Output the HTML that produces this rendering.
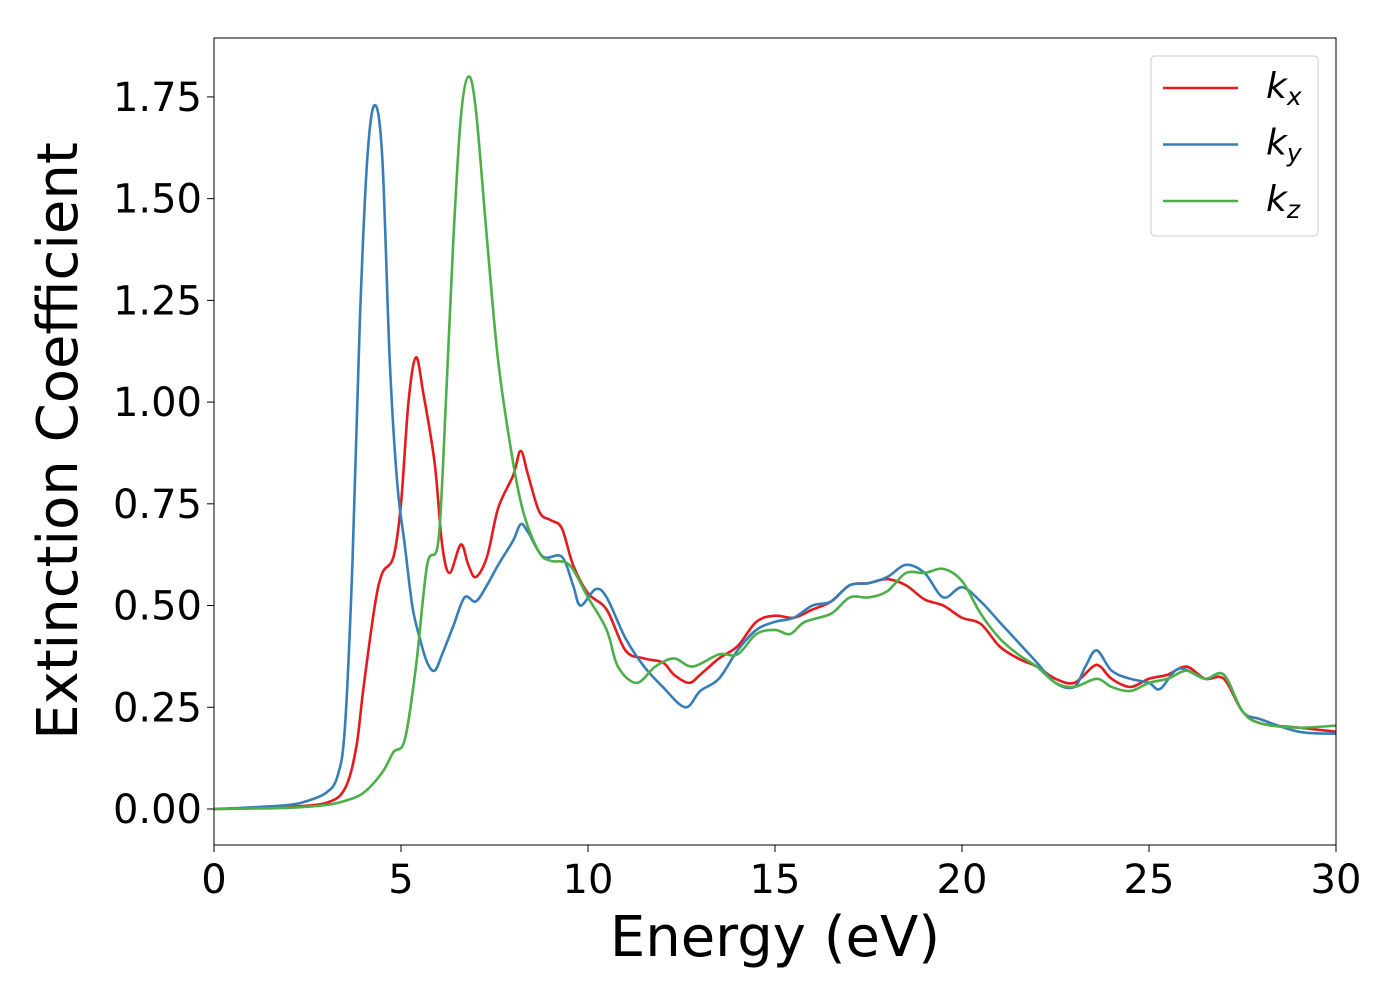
<!DOCTYPE html>
<html><head><meta charset="utf-8"><style>
body{margin:0;background:#fff}
svg text{font-family:"DejaVu Sans","Liberation Sans",sans-serif;fill:#000}
</style></head><body>
<svg width="1400" height="1000" xmlns="http://www.w3.org/2000/svg">
<g id="plot"></g>
</svg>
<script>
const xTicks=[0,5,10,15,20,25,30];
const yTicks=[0,0.25,0.5,0.75,1.0,1.25,1.5,1.75];
const yTickLabels=["0.00","0.25","0.50","0.75","1.00","1.25","1.50","1.75"];
const kxE=[0,1,2,3,3.5,3.8,4.0,4.3,4.5,4.8,5.0,5.2,5.4,5.6,5.9,6.1,6.3,6.6,6.8,7.0,7.3,7.6,8.0,8.2,8.4,8.7,9.0,9.3,9.6,10,10.5,11,11.5,12,12.3,12.7,13,13.5,14,14.5,15,15.5,16,16.5,17,17.5,18,18.5,19,19.5,20,20.5,21,21.5,22,22.5,23,23.5,23.7,24,24.5,25,25.5,26,26.5,27,27.5,28,29,30];
const kxV=[0,0.002,0.005,0.015,0.05,0.15,0.3,0.5,0.58,0.62,0.75,1.0,1.11,1.02,0.85,0.65,0.58,0.65,0.6,0.57,0.62,0.74,0.82,0.88,0.82,0.73,0.71,0.69,0.6,0.53,0.49,0.39,0.37,0.36,0.33,0.31,0.33,0.37,0.4,0.46,0.475,0.47,0.49,0.51,0.55,0.555,0.565,0.55,0.515,0.5,0.47,0.455,0.4,0.37,0.35,0.32,0.31,0.35,0.35,0.32,0.3,0.32,0.33,0.35,0.32,0.32,0.24,0.21,0.2,0.19];
const kyE=[0,1,2,2.5,3,3.3,3.5,3.7,3.9,4.1,4.3,4.5,4.7,4.9,5.1,5.3,5.5,5.7,5.9,6.1,6.4,6.7,7.0,7.3,7.6,8.0,8.2,8.4,8.8,9.3,9.6,9.8,10.2,10.5,11,11.5,12,12.6,13.0,13.5,14,14.5,15,15.5,16,16.5,17,17.5,18,18.5,19,19.5,20,20.5,21,21.5,22,22.5,23,23.3,23.6,24,24.5,25,25.3,25.8,26.5,27,27.5,28,29,30];
const kyV=[0,0.004,0.01,0.02,0.04,0.08,0.2,0.6,1.2,1.6,1.73,1.6,1.1,0.8,0.65,0.5,0.42,0.36,0.34,0.38,0.45,0.52,0.51,0.55,0.6,0.66,0.7,0.68,0.62,0.62,0.55,0.5,0.54,0.52,0.42,0.35,0.3,0.25,0.29,0.32,0.39,0.44,0.46,0.47,0.5,0.51,0.55,0.555,0.57,0.6,0.58,0.52,0.545,0.51,0.46,0.41,0.36,0.31,0.3,0.35,0.39,0.34,0.32,0.31,0.295,0.345,0.32,0.33,0.24,0.22,0.19,0.185];
const kzE=[0,2,3,3.5,4,4.5,4.8,5.1,5.4,5.7,6.0,6.2,6.4,6.6,6.8,7.0,7.3,7.6,8.0,8.3,8.7,9.0,9.5,10,10.5,10.8,11.3,11.8,12.3,12.8,13.5,14,14.5,15,15.4,15.8,16.5,17,17.5,18,18.5,19,19.5,20,20.5,21,21.5,22,22.5,23,23.6,24,24.5,25,25.5,26,26.5,27,27.5,28,29,30];
const kzV=[0,0.003,0.01,0.02,0.04,0.09,0.14,0.17,0.35,0.6,0.66,1.0,1.4,1.7,1.8,1.72,1.4,1.1,0.85,0.72,0.63,0.61,0.6,0.52,0.44,0.35,0.31,0.35,0.37,0.35,0.38,0.38,0.43,0.44,0.43,0.46,0.48,0.52,0.52,0.535,0.58,0.58,0.59,0.56,0.48,0.42,0.38,0.35,0.31,0.3,0.32,0.3,0.29,0.31,0.32,0.34,0.32,0.33,0.24,0.21,0.2,0.205];

const L=214,R=1336,T=38,B=845;
const X=v=>L+(v/30)*(R-L);
const Y=v=>809-v*406.9;
const NS="http://www.w3.org/2000/svg";
const g=document.getElementById('plot');
function mk(t,a,txt){const e=document.createElementNS(NS,t);for(const k in a)e.setAttribute(k,a[k]);if(txt!==undefined)e.textContent=txt;g.appendChild(e);return e;}

function smoothPath(xs,ys){
  const p=xs.map((x,i)=>[X(x),Y(ys[i])]);
  let d=`M${p[0][0]},${p[0][1]}`;
  for(let i=0;i<p.length-1;i++){
    const p0=p[i-1]||p[i],p1=p[i],p2=p[i+1],p3=p[i+2]||p2;
    const c1=[p1[0]+(p2[0]-p0[0])/6,p1[1]+(p2[1]-p0[1])/6];
    const c2=[p2[0]-(p3[0]-p1[0])/6,p2[1]-(p3[1]-p1[1])/6];
    d+=`C${c1[0]},${c1[1]} ${c2[0]},${c2[1]} ${p2[0]},${p2[1]}`;
  }
  return d;
}
const clip=mk('clipPath',{id:'c'});
const cr=document.createElementNS(NS,'rect');
cr.setAttribute('x',L);cr.setAttribute('y',T);cr.setAttribute('width',R-L);cr.setAttribute('height',B-T);
clip.appendChild(cr);

const series=[[kxE,kxV,'#e41a1c','series-kx'],[kyE,kyV,'#377eb8','series-ky'],[kzE,kzV,'#4daf4a','series-kz']];
series.forEach(s=>{
  const e=mk('path',{d:smoothPath(s[0],s[1]),fill:'none',stroke:s[2],'stroke-width':2.6,'clip-path':'url(#c)'});
  
  
});

const frame=mk('rect',{x:L,y:T,width:R-L,height:B-T,fill:'none',stroke:'#000','stroke-width':1});



xTicks.forEach(t=>{
  const l=mk('line',{x1:X(t),x2:X(t),y1:B,y2:B+7,stroke:'#000','stroke-width':1});
  
  
  const tx=mk('text',{x:X(t),y:893,'font-size':40,'text-anchor':'middle'},String(t));
  
  
});
yTicks.forEach((t,i)=>{
  const l=mk('line',{x1:L-7,x2:L,y1:Y(t),y2:Y(t),stroke:'#000','stroke-width':1});
  
  
  const tx=mk('text',{x:202,y:Y(t)+14,'font-size':40,'text-anchor':'end'},yTickLabels[i]);
  
  
});
const xl=mk('text',{x:775,y:956,'font-size':56,'text-anchor':'middle'},'Energy (eV)');


const yl=mk('text',{x:0,y:0,'font-size':56,'text-anchor':'middle',transform:'translate(77,441) rotate(-90)'},'Extinction Coefficient');



const lg=mk('rect',{x:1151,y:56,width:167,height:180,rx:4,fill:'#fff','fill-opacity':0.8,stroke:'#ccc','stroke-width':1});


const subs=['x','y','z'];
series.forEach((s,i)=>{
  const y=88+i*56.5;
  const l=mk('line',{x1:1163,x2:1238,y1:y,y2:y,stroke:s[2],'stroke-width':2.6});
  
  
  const t=mk('text',{x:1266,y:y+10,'font-size':36,'font-style':'italic'});
  
  
  const a=document.createElementNS(NS,'tspan');a.textContent='k';t.appendChild(a);
  const b=document.createElementNS(NS,'tspan');b.setAttribute('font-size','25');b.setAttribute('dy','7');b.textContent=subs[i];t.appendChild(b);
});
</script>
</body></html>
